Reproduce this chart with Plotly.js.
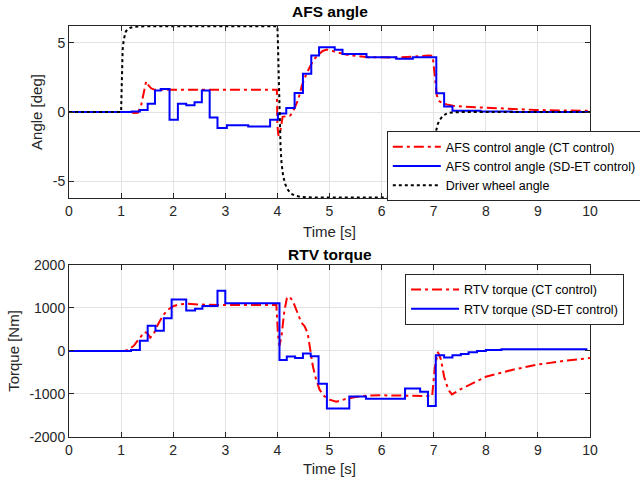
<!DOCTYPE html>
<html>
<head>
<meta charset="utf-8">
<script src="https://cdn.plot.ly/plotly-3.0.1.min.js"></script>
<style>html,body{margin:0;padding:0;background:#fff}#chart{width:640px;height:483px}</style>
</head>
<body>
<div id="chart"></div>
<script>
// ---------- AFS angle (top) ----------
const afsCtTime = [0,1.15,1.25,1.32,1.38,1.43,1.48,1.53,1.58,1.65,1.8,2.5,3.5,3.99,4.0,4.02,4.05,4.1,4.18,4.25,4.32,4.4,4.47,4.55,4.63,4.7,4.78,4.87,4.95,5.1,5.36,5.75,6.2,6.6,6.9,6.98,7.0,7.03,7.06,7.1,7.15,7.25,7.37,7.6,8.0,8.5,8.95,9.5,10];
const afsCtVal  = [0,0,-0.08,-0.05,0.4,1.3,2.2,1.9,1.7,1.6,1.6,1.6,1.6,1.6,-1.0,-1.7,-1.5,-0.35,-0.3,-0.25,0.2,0.9,1.9,2.7,3.3,3.8,4.1,4.4,4.5,4.35,4.1,3.95,3.93,3.98,4.08,4.05,3.3,2.0,1.2,0.8,0.68,0.55,0.45,0.38,0.3,0.22,0.15,0.11,0.08];

const afsEtTime = [0,1.20,1.36,1.51,1.65,1.76,1.93,2.09,2.25,2.41,2.55,2.70,2.85,3.03,3.44,3.86,4.01,4.17,4.33,4.49,4.65,4.80,5.10,5.25,5.71,6.28,6.60,7.05,7.20,7.36,7.9,8.5,10];
const afsEtVal  = [0,0.03,0.15,0.6,1.55,1.65,-0.55,0.6,0.48,0.7,1.55,-0.4,-1.15,-0.95,-1.05,-0.55,-0.1,0.29,1.37,2.75,4.07,4.67,4.48,4.19,3.95,3.83,3.95,1.35,0.4,0.09,0.04,0.0,0.0];

const driverTime = [0,1.0,1.01,1.02,1.03,1.05,1.07,1.09,1.12,1.18,1.25,1.32,1.5,4.0,4.01,4.02,4.03,4.04,4.06,4.08,4.11,4.15,4.2,4.26,4.33,4.45,4.7,7.0,7.01,7.02,7.03,7.05,7.08,7.12,7.17,7.23,7.3,7.4,7.6,10];
const driverVal  = [0,0,1.6,3.2,4.5,5.2,5.6,5.8,5.95,6.08,6.13,6.16,6.18,6.18,5.0,3.2,1.2,-0.8,-2.5,-3.7,-4.6,-5.2,-5.6,-5.88,-6.02,-6.12,-6.17,-6.17,-4.8,-3.0,-2.0,-1.3,-0.85,-0.55,-0.3,-0.15,-0.06,-0.02,0,0];

// ---------- RTV torque (bottom) ----------
const rtvCtTime = [0,1.05,1.15,1.25,1.33,1.4,1.45,1.5,1.56,1.62,1.7,1.8,1.9,2.0,2.1,2.25,2.5,3.0,3.5,3.98,4.01,4.04,4.08,4.13,4.18,4.23,4.3,4.38,4.46,4.52,4.58,4.68,4.74,4.81,4.9,5.0,5.13,5.3,5.5,5.7,6.0,6.5,6.97,7.02,7.08,7.14,7.2,7.28,7.35,7.5,7.7,8.0,8.5,9.0,9.5,10];
const rtvCtVal  = [0,0,30,130,260,380,440,420,310,380,600,820,960,1040,1080,1100,1080,1070,1070,1070,400,120,350,900,1220,1270,1150,900,660,580,420,-350,-650,-900,-1050,-1130,-1180,-1120,-1070,-1040,-1030,-1040,-1050,-400,-20,-200,-600,-900,-1010,-900,-780,-600,-440,-315,-230,-165];

const rtvEtTime = [0,1.19,1.36,1.51,1.66,1.82,1.97,2.25,2.42,2.56,2.85,3.0,4.04,4.18,4.34,4.49,4.64,4.79,4.95,5.38,5.70,6.45,6.74,6.89,7.04,7.20,7.36,7.52,7.67,7.83,8.0,8.3,9.95];
const rtvEtVal  = [0,23,240,590,470,760,1200,940,980,1045,1400,1110,-210,-130,-160,-60,-120,-760,-1340,-1060,-1110,-870,-950,-1280,-100,-150,-100,-70,-30,0,25,40,40];

const xTicks = [0,1,2,3,4,5,6,7,8,9,10];
const yTicksTop = [-5,0,5];
const yTickTextTop = ['-5','0','5'];
const yTicksBottom = [-2000,-1000,0,1000,2000];
const yTickTextBottom = ['-2000','-1000','0','1000','2000'];

const RED = '#ff0000', BLUE = '#0000ff', BLACK = '#000000';
const redDash = '10px,4px,3px,4px';

const traces = [
  {x: afsCtTime, y: afsCtVal, xaxis:'x', yaxis:'y', mode:'lines', name:'AFS control angle (CT control)',
   line:{color:RED, width:2, dash:redDash}, legend:'legend'},
  {x: afsEtTime, y: afsEtVal, xaxis:'x', yaxis:'y', mode:'lines', name:'AFS control angle (SD-ET control)',
   line:{color:BLUE, width:2, shape:'hv'}, legend:'legend'},
  {x: driverTime, y: driverVal, xaxis:'x', yaxis:'y', mode:'lines', name:'Driver wheel angle',
   line:{color:BLACK, width:2, dash:'dot'}, legend:'legend'},
  {x: rtvCtTime, y: rtvCtVal, xaxis:'x2', yaxis:'y2', mode:'lines', name:'RTV torque (CT control)',
   line:{color:RED, width:2, dash:redDash}, legend:'legend2'},
  {x: rtvEtTime, y: rtvEtVal, xaxis:'x2', yaxis:'y2', mode:'lines', name:'RTV torque (SD-ET control)',
   line:{color:BLUE, width:2, shape:'hv'}, legend:'legend2'}
];

const FONT = 'Liberation Sans, Arial, Helvetica, sans-serif';
const axBase = {
  showline:true, linecolor:'#262626', linewidth:1, mirror:'ticks',
  ticks:'inside', ticklen:5, tickcolor:'#262626',
  showgrid:true, gridcolor:'#e3e3e3', gridwidth:1, zeroline:false,
  tickfont:{family:FONT, size:14, color:'#262626'}
};
const titleFont = {family:FONT, size:15, color:'#262626'};
const legendFont = {family:FONT, size:12.5, color:'#000000'};

const layout = {
  width:640, height:483,
  margin:{l:69, r:50, t:26, b:46, autoexpand:false},
  paper_bgcolor:'#ffffff', plot_bgcolor:'#ffffff',
  font:{family:FONT, color:'#262626'},
  showlegend:true,
  xaxis: Object.assign({}, axBase, {domain:[0,1], range:[0,10], tickvals:xTicks, anchor:'y',
    title:{text:'Time [s]', font:titleFont, standoff:8}}),
  yaxis: Object.assign({}, axBase, {domain:[0.5815,1], range:[-6.2,6.2], tickvals:yTicksTop, ticktext:yTickTextTop, anchor:'x',
    title:{text:'Angle [deg]', font:titleFont, standoff:6}}),
  xaxis2: Object.assign({}, axBase, {domain:[0,1], range:[0,10], tickvals:xTicks, anchor:'y2',
    title:{text:'Time [s]', font:titleFont, standoff:6}}),
  yaxis2: Object.assign({}, axBase, {domain:[0,0.4185], range:[-2000,2000], tickvals:yTicksBottom, ticktext:yTickTextBottom, anchor:'x2',
    title:{text:'Torque [Nm]', font:titleFont, standoff:6}}),
  legend:{x:0.61, y:0.7445, xanchor:'left', yanchor:'top', bgcolor:'#ffffff',
    bordercolor:'#262626', borderwidth:1, font:legendFont, itemwidth:48, tracegroupgap:0},
  legend2:{x:0.645, y:0.3966, xanchor:'left', yanchor:'top', bgcolor:'#ffffff',
    bordercolor:'#262626', borderwidth:1, font:legendFont, itemwidth:48, tracegroupgap:0},
  annotations:[
    {text:'<b>AFS angle</b>', xref:'paper', yref:'paper', x:0.5, y:1, yshift:4, xanchor:'center', yanchor:'bottom',
     showarrow:false, font:{family:FONT, size:15.5, color:'#000000'}},
    {text:'<b>RTV torque</b>', xref:'paper', yref:'paper', x:0.5, y:0.4185, yshift:0, xanchor:'center', yanchor:'bottom',
     showarrow:false, font:{family:FONT, size:15.5, color:'#000000'}}
  ]
};

Plotly.newPlot('chart', traces, layout, {displayModeBar:false, staticPlot:true});
</script>
</body>
</html>
